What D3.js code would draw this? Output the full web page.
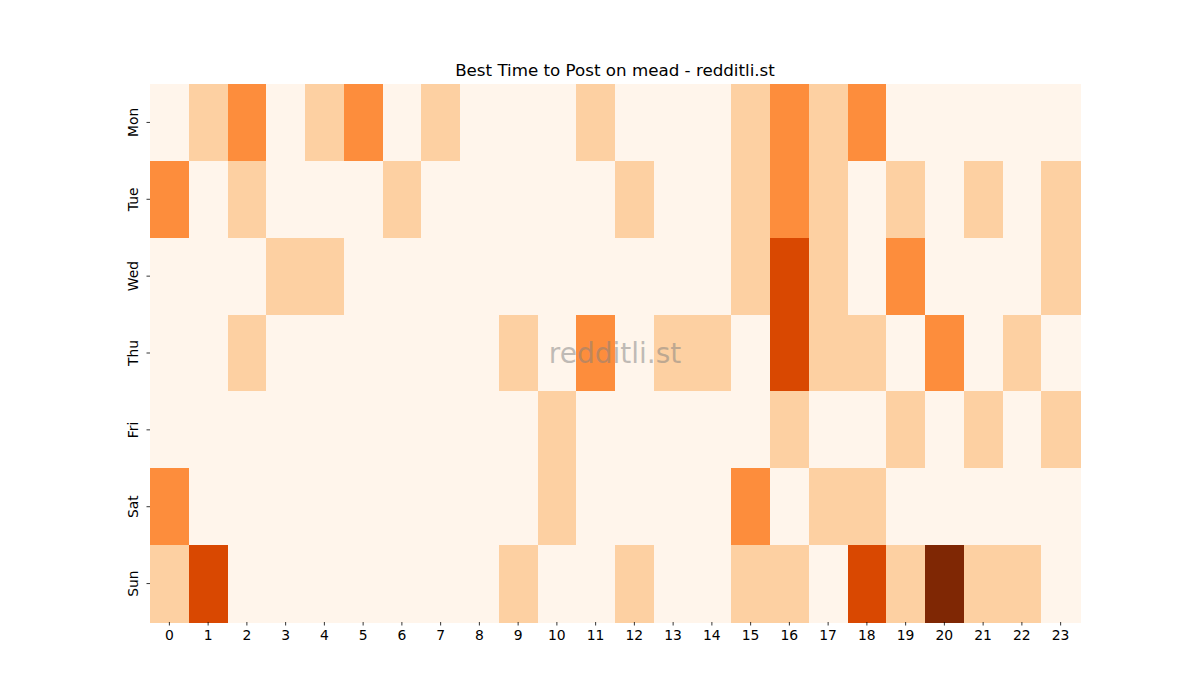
<!DOCTYPE html>
<html>
<head>
<meta charset="utf-8">
<script src="https://cdn.jsdelivr.net/npm/d3@7"></script>
<style>
  body { margin: 0; background: #fff; }
  svg { font-family: "DejaVu Sans", sans-serif; }
</style>
</head>
<body>
<svg id="chart" width="1200" height="700"></svg>
<script>
// rows of the heatmap, top to bottom
const days = ["Mon", "Tue", "Wed", "Thu", "Fri", "Sat", "Sun"];
const hours = d3.range(24);

// activity level per hour (0..4), one array per day
const mon = [0, 1, 2, 0, 1, 2, 0, 1, 0, 0, 0, 1, 0, 0, 0, 1, 2, 1, 2, 0, 0, 0, 0, 0];
const tue = [2, 0, 1, 0, 0, 0, 1, 0, 0, 0, 0, 0, 1, 0, 0, 1, 2, 1, 0, 1, 0, 1, 0, 1];
const wed = [0, 0, 0, 1, 1, 0, 0, 0, 0, 0, 0, 0, 0, 0, 0, 1, 3, 1, 0, 2, 0, 0, 0, 1];
const thu = [0, 0, 1, 0, 0, 0, 0, 0, 0, 1, 0, 2, 0, 1, 1, 0, 3, 1, 1, 0, 2, 0, 1, 0];
const fri = [0, 0, 0, 0, 0, 0, 0, 0, 0, 0, 1, 0, 0, 0, 0, 0, 1, 0, 0, 1, 0, 1, 0, 1];
const sat = [2, 0, 0, 0, 0, 0, 0, 0, 0, 0, 1, 0, 0, 0, 0, 2, 0, 1, 1, 0, 0, 0, 0, 0];
const sun = [1, 3, 0, 0, 0, 0, 0, 0, 0, 1, 0, 0, 1, 0, 0, 1, 1, 0, 3, 1, 4, 1, 1, 0];

const rows = [mon, tue, wed, thu, fri, sat, sun];

// matplotlib "Oranges" anchor colours
const oranges = ["#fff5eb", "#fee6ce", "#fdd0a2", "#fdae6b", "#fd8d3c",
                 "#f16913", "#d94801", "#a63603", "#7f2704"];

const cells = [];
rows.forEach((vals, r) => vals.forEach((v, h) => cells.push({ day: days[r], hour: h, value: v })));

const margin = { top: 84, right: 120, bottom: 78, left: 150 };
const width = 1200 - margin.left - margin.right;
const height = 700 - margin.top - margin.bottom;

const svg = d3.select("#chart");
const g = svg.append("g").attr("transform", `translate(${margin.left},${margin.top})`);

const x = d3.scaleBand().domain(hours).range([0, width]);
const y = d3.scaleBand().domain(days).range([0, height]);

const vmax = d3.max(cells, d => d.value);
const color = d3.scaleLinear()
  .domain(oranges.map((c, i) => vmax * i / (oranges.length - 1)))
  .range(oranges);

g.selectAll("rect.cell")
  .data(cells)
  .join("rect")
  .attr("class", "cell")
  .attr("x", d => x(d.hour))
  .attr("y", d => y(d.day))
  .attr("width", x.bandwidth() + 0.5)
  .attr("height", y.bandwidth() + 0.5)
  .attr("fill", d => color(d.value))
  .attr("shape-rendering", "crispEdges");

const xAxis = g.append("g")
  .attr("transform", `translate(0,${height})`)
  .call(d3.axisBottom(x).tickSize(3.5).tickPadding(5));

const yAxis = g.append("g")
  .call(d3.axisLeft(y).tickSize(3.5).tickPadding(5));

[xAxis, yAxis].forEach(ax => {
  ax.select(".domain").remove();
  ax.selectAll(".tick line").attr("stroke", "#000").attr("stroke-width", 0.8);
  ax.selectAll(".tick text").attr("font-size", 13.9).attr("fill", "#000")
    .attr("font-family", "DejaVu Sans, sans-serif");
});

yAxis.selectAll(".tick text")
  .attr("transform", "rotate(-90)")
  .attr("text-anchor", "middle")
  .attr("x", 0)
  .attr("y", -12)
  .attr("dy", "0");

svg.append("text")
  .attr("x", margin.left + width / 2)
  .attr("y", 76)
  .attr("text-anchor", "middle")
  .attr("font-size", 16.7)
  .attr("fill", "#000")
  .text("Best Time to Post on mead - redditli.st");

// watermark
svg.append("text")
  .attr("x", margin.left + width / 2)
  .attr("y", margin.top + height / 2 + 10)
  .attr("text-anchor", "middle")
  .attr("font-size", 28)
  .attr("fill", "#808080")
  .attr("fill-opacity", 0.5)
  .text("redditli.st");
</script>
</body>
</html>
